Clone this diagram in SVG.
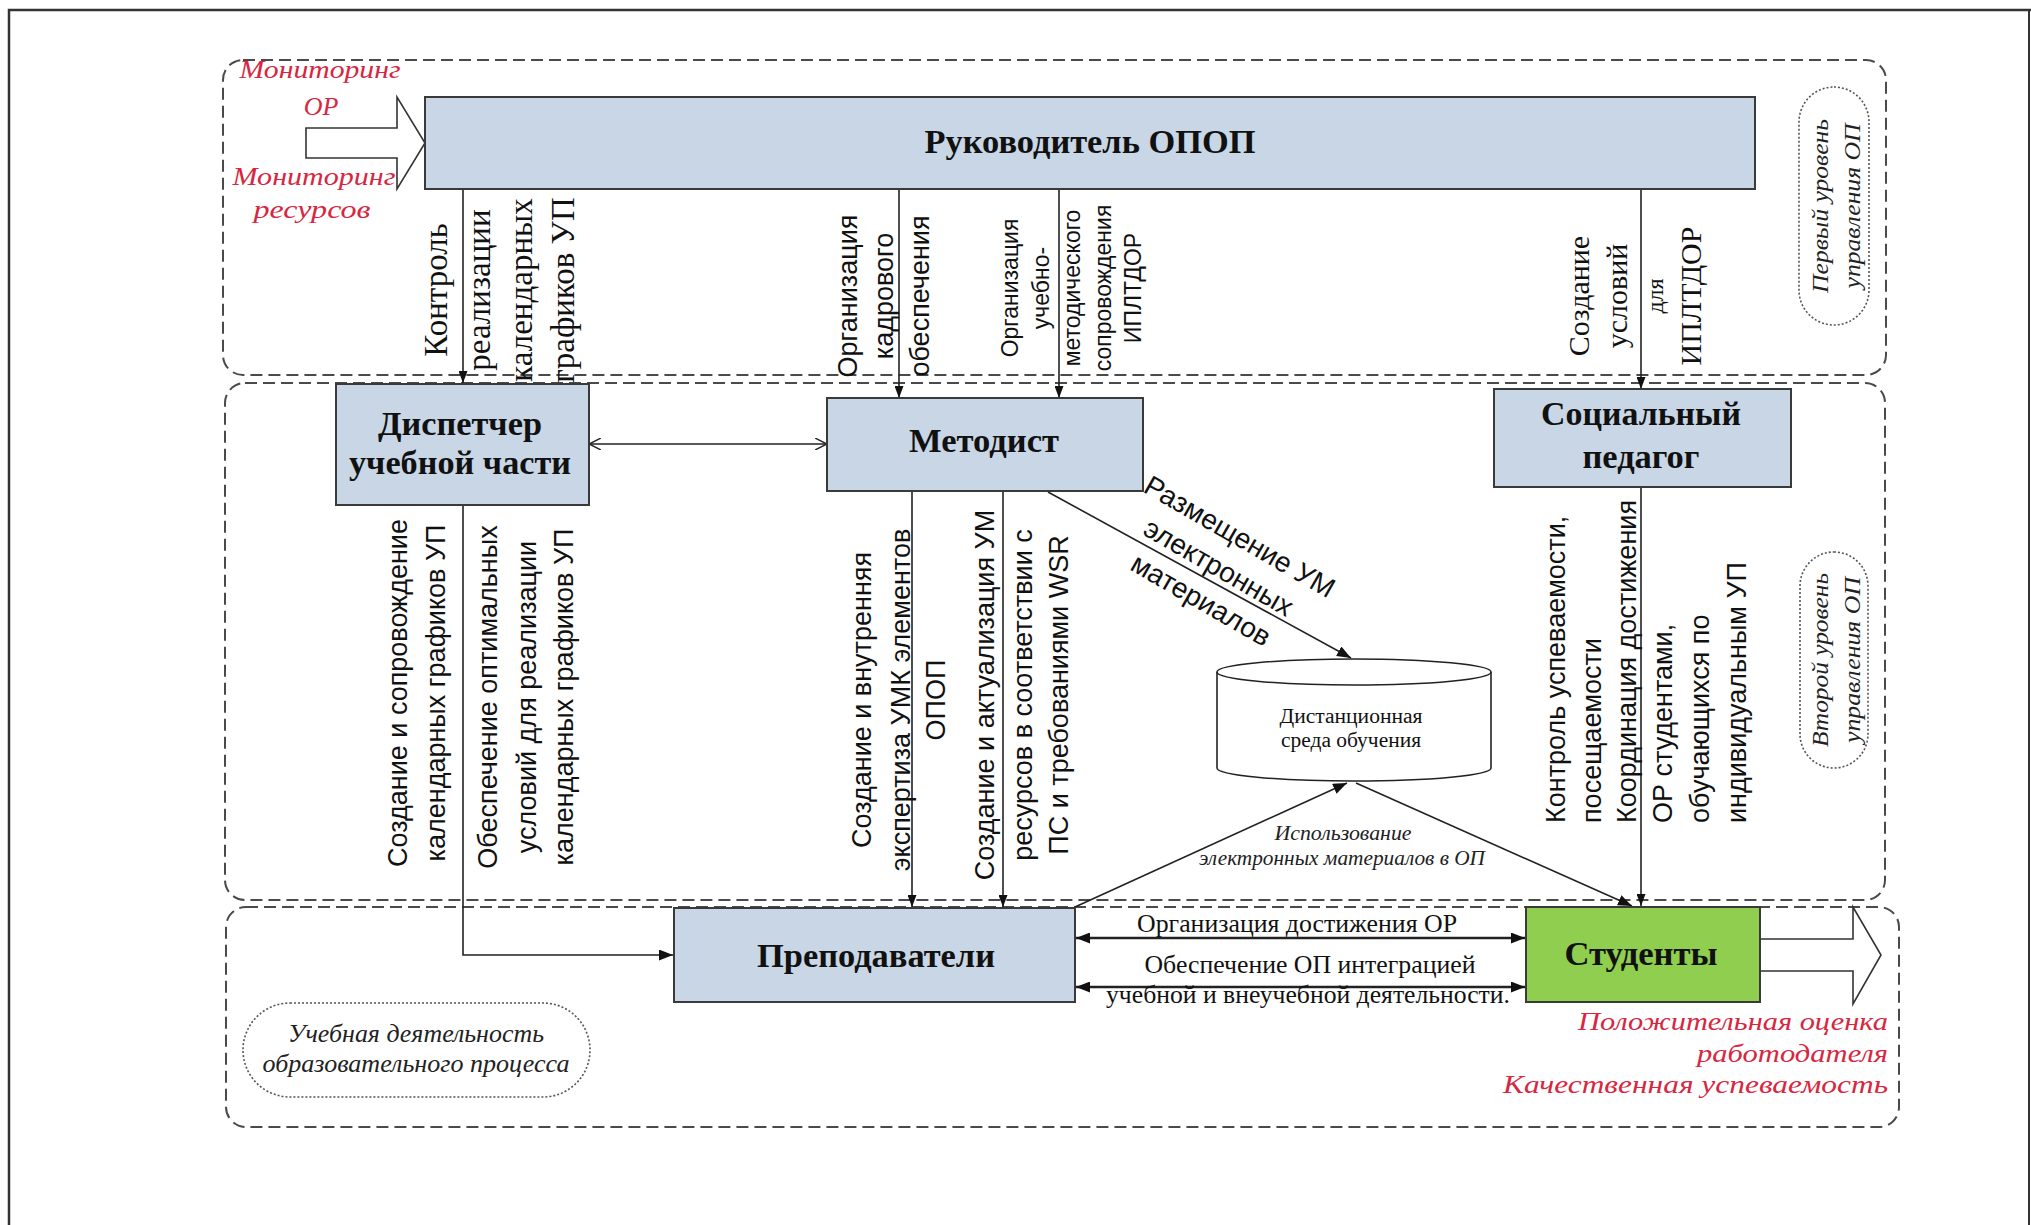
<svg xmlns="http://www.w3.org/2000/svg" width="2031" height="1225" viewBox="0 0 2031 1225">
<style>
.box{fill:#c8d6e5;stroke:#3a3a3a;stroke-width:2}
.green{fill:#8fce4e;stroke:#3a3a3a;stroke-width:2}
.region{fill:none;stroke:#4a4a4a;stroke-width:2;stroke-dasharray:12 6}
.stadium{fill:none;stroke:#555;stroke-width:1.6;stroke-dasharray:2 2}
.ln{fill:none;stroke:#222;stroke-width:1.6}
.ln2{fill:none;stroke:#222;stroke-width:2.4}
.hollow{fill:#fff;stroke:#333;stroke-width:1.6}
.title{font-family:"Liberation Serif","Times New Roman",serif;font-weight:bold;font-size:33px;fill:#111}
.serif{font-family:"Liberation Serif","Times New Roman",serif;fill:#111}
.sans{font-family:"Liberation Sans",Arial,sans-serif;fill:#111}
.ital{font-family:"Liberation Serif","Times New Roman",serif;font-style:italic;fill:#222}
.red{font-family:"Liberation Serif","Times New Roman",serif;font-style:italic;fill:#d8263f;font-size:26px}
</style>
<defs>
<marker id="ah" viewBox="0 0 10 10" refX="10" refY="5" markerWidth="14" markerHeight="11" markerUnits="userSpaceOnUse" orient="auto-start-reverse" preserveAspectRatio="none"><path d="M0,0 L10,5 L0,10 z" fill="#111"/></marker>
<marker id="ahs" viewBox="0 0 10 10" refX="10" refY="5" markerWidth="12" markerHeight="9" markerUnits="userSpaceOnUse" orient="auto-start-reverse" preserveAspectRatio="none"><path d="M0,0 L10,5 L0,10 z" fill="#111"/></marker>
<marker id="open" viewBox="0 0 10 10" refX="10" refY="5" markerWidth="12" markerHeight="12" markerUnits="userSpaceOnUse" orient="auto-start-reverse" preserveAspectRatio="none"><path d="M0,0 L10,5 L0,10" fill="none" stroke="#222" stroke-width="1.2"/></marker>
</defs>
<rect width="2031" height="1225" fill="#fff"/>
<path d="M9,1225 V10 H2031" fill="none" stroke="#333" stroke-width="2.5"/>
<line x1="2029" y1="10" x2="2029" y2="1225" stroke="#333" stroke-width="2"/>

<g id="regions">
<rect class="region" x="223" y="60" width="1663" height="315" rx="20"/>
<rect class="region" x="225" y="383" width="1660" height="517" rx="20"/>
<rect class="region" x="226" y="907" width="1673" height="220" rx="20"/>
</g>

<g id="connectors">
<line class="ln" x1="463" y1="189" x2="463" y2="383" marker-end="url(#ahs)"/>
<line class="ln" x1="899" y1="189" x2="899" y2="398" marker-end="url(#ahs)"/>
<line class="ln" x1="1059" y1="189" x2="1059" y2="398" marker-end="url(#ahs)"/>
<line class="ln" x1="1641" y1="189" x2="1641" y2="389" marker-end="url(#ahs)"/>
<line class="ln" x1="589" y1="444" x2="827" y2="444" marker-start="url(#open)" marker-end="url(#open)"/>
<polyline class="ln" points="463,505 463,955 673,955" marker-end="url(#ah)"/>
<line class="ln" x1="912" y1="491" x2="912" y2="907" marker-end="url(#ahs)"/>
<line class="ln" x1="1003" y1="491" x2="1003" y2="907" marker-end="url(#ahs)"/>
<line class="ln" x1="1048" y1="492" x2="1351" y2="658" marker-end="url(#ah)"/>
<line class="ln" x1="1075" y1="907" x2="1347" y2="783" marker-end="url(#ah)"/>
<line class="ln" x1="1356" y1="783" x2="1632" y2="906" marker-end="url(#ah)"/>
<line class="ln" x1="1641" y1="487" x2="1641" y2="906" marker-end="url(#ahs)"/>
<line class="ln2" x1="1076" y1="938" x2="1525" y2="938" marker-start="url(#ah)" marker-end="url(#ah)"/>
<line class="ln2" x1="1076" y1="987" x2="1525" y2="987" marker-start="url(#ah)" marker-end="url(#ah)"/>
<polygon class="hollow" points="306,128 397,128 397,97 425,143 397,189 397,158 306,158"/>
<polygon class="hollow" points="1760,939 1853,939 1853,907 1881,955 1853,1004 1853,971 1760,971"/>
</g>

<g id="node-rukovoditel">
<rect class="box" x="425" y="97" width="1330" height="92"/>
<text class="title" x="1090" y="153" text-anchor="middle" textLength="331" lengthAdjust="spacingAndGlyphs">Руководитель ОПОП</text>
</g>
<g id="node-dispetcher">
<rect class="box" x="336" y="384" width="253" height="121"/>
<text class="title" x="460" y="435" text-anchor="middle" textLength="164" lengthAdjust="spacingAndGlyphs">Диспетчер</text>
<text class="title" x="460" y="474" text-anchor="middle" textLength="222" lengthAdjust="spacingAndGlyphs">учебной части</text>
</g>
<g id="node-metodist">
<rect class="box" x="827" y="398" width="316" height="93"/>
<text class="title" x="984" y="452" text-anchor="middle" textLength="150" lengthAdjust="spacingAndGlyphs">Методист</text>
</g>
<g id="node-socped">
<rect class="box" x="1494" y="389" width="297" height="98"/>
<text class="title" x="1641" y="425" text-anchor="middle" textLength="200" lengthAdjust="spacingAndGlyphs">Социальный</text>
<text class="title" x="1641" y="468" text-anchor="middle" textLength="117" lengthAdjust="spacingAndGlyphs">педагог</text>
</g>
<g id="node-distant">
<path d="M1217,672 V768 A137,13 0 0 0 1491,768 V672" fill="#fff" stroke="#222" stroke-width="1.6"/>
<ellipse cx="1354" cy="672" rx="137" ry="13" fill="#fff" stroke="#222" stroke-width="1.6"/>
<text class="serif" x="1351" y="723" text-anchor="middle" font-size="20" fill="#333" textLength="143" lengthAdjust="spacingAndGlyphs">Дистанционная</text>
<text class="serif" x="1351" y="747" text-anchor="middle" font-size="20" fill="#333" textLength="140" lengthAdjust="spacingAndGlyphs">среда обучения</text>
</g>
<g id="node-prepod">
<rect class="box" x="674" y="908" width="401" height="94"/>
<text class="title" x="876" y="967" text-anchor="middle" textLength="238" lengthAdjust="spacingAndGlyphs">Преподаватели</text>
</g>
<g id="node-students">
<rect class="green" x="1526" y="907" width="234" height="95"/>
<text class="title" x="1641" y="965" text-anchor="middle" textLength="153" lengthAdjust="spacingAndGlyphs">Студенты</text>
</g>

<g id="stadiums">
<rect class="stadium" x="1799" y="87" width="70" height="238" rx="35"/>
<text class="ital" font-size="24" transform="translate(1828,206) rotate(-90)" text-anchor="middle"><tspan x="0" y="0" textLength="174" lengthAdjust="spacingAndGlyphs">Первый уровень</tspan><tspan x="0" y="32" textLength="165" lengthAdjust="spacingAndGlyphs">управления ОП</tspan></text>
<rect class="stadium" x="1800" y="552" width="68" height="216" rx="34"/>
<text class="ital" font-size="24" transform="translate(1828,660) rotate(-90)" text-anchor="middle"><tspan x="0" y="0" textLength="174" lengthAdjust="spacingAndGlyphs">Второй уровень</tspan><tspan x="0" y="32" textLength="166" lengthAdjust="spacingAndGlyphs">управления ОП</tspan></text>
<rect class="stadium" x="243" y="1003" width="347" height="94" rx="47"/>
<text class="ital" font-size="26" x="416" y="1042" text-anchor="middle" textLength="256" lengthAdjust="spacingAndGlyphs">Учебная деятельность</text>
<text class="ital" font-size="26" x="416" y="1072" text-anchor="middle" textLength="307" lengthAdjust="spacingAndGlyphs">образовательного процесса</text>
</g>

<g id="labels">
<text class="red" x="320" y="78" text-anchor="middle" textLength="161" lengthAdjust="spacingAndGlyphs">Мониторинг</text>
<text class="red" x="321" y="115" text-anchor="middle">ОР</text>
<text class="red" x="314" y="185" text-anchor="middle" textLength="163" lengthAdjust="spacingAndGlyphs">Мониторинг</text>
<text class="red" x="312" y="218" text-anchor="middle" textLength="117" lengthAdjust="spacingAndGlyphs">ресурсов</text>

<text class="serif" font-size="33" transform="translate(447,290) rotate(-90)" text-anchor="middle"><tspan x="0" y="0">Контроль</tspan><tspan x="0" y="43">реализации</tspan><tspan x="0" y="85">календарных</tspan><tspan x="0" y="127">графиков УП</tspan></text>

<text class="sans" font-size="27" transform="translate(857,296) rotate(-90)" text-anchor="middle"><tspan x="0" y="0">Организация</tspan><tspan x="0" y="36">кадрового</tspan><tspan x="0" y="72">обеспечения</tspan></text>

<text class="sans" font-size="23" transform="translate(1018,288) rotate(-90)" text-anchor="middle"><tspan x="0" y="0">Организация</tspan><tspan x="0" y="31">учебно-</tspan><tspan x="0" y="62">методического</tspan><tspan x="0" y="93">сопровождения</tspan><tspan x="0" y="123">ИПЛТДОР</tspan></text>

<text class="serif" font-size="30" transform="translate(1589,296) rotate(-90)" text-anchor="middle"><tspan x="0" y="0">Создание</tspan><tspan x="0" y="38">условий</tspan><tspan x="0" y="74" font-size="24">для</tspan><tspan x="0" y="112">ИПЛТДОР</tspan></text>

<text class="sans" font-size="27" transform="translate(407,693) rotate(-90)" text-anchor="middle"><tspan x="0" y="0">Создание и сопровождение</tspan><tspan x="0" y="38">календарных графиков УП</tspan></text>
<text class="sans" font-size="27" transform="translate(497,697) rotate(-90)" text-anchor="middle"><tspan x="0" y="0">Обеспечение оптимальных</tspan><tspan x="0" y="39">условий для реализации</tspan><tspan x="0" y="76">календарных графиков УП</tspan></text>

<text class="sans" font-size="27" transform="translate(871,700) rotate(-90)" text-anchor="middle"><tspan x="0" y="0">Создание и внутренняя</tspan><tspan x="0" y="39">экспертиза УМК элементов</tspan><tspan x="0" y="74">ОПОП</tspan></text>
<text class="sans" font-size="27" transform="translate(994,695) rotate(-90)" text-anchor="middle"><tspan x="0" y="0">Создание и актуализация УМ</tspan><tspan x="0" y="38">ресурсов в соответствии с</tspan><tspan x="0" y="74">ПС и требованиями WSR</tspan></text>

<text class="sans" font-size="28" transform="translate(1235,545) rotate(30)" text-anchor="middle"><tspan x="0" y="0">Размещение УМ</tspan><tspan x="-3" y="37">электронных</tspan><tspan x="-2" y="74">материалов</tspan></text>

<text class="sans" font-size="27" transform="translate(1565,823) rotate(-90)" text-anchor="start"><tspan x="0" y="0">Контроль успеваемости,</tspan><tspan x="0" y="36">посещаемости</tspan><tspan x="0" y="71">Координация достижения</tspan><tspan x="0" y="107">ОР студентами,</tspan><tspan x="0" y="144">обучающихся по</tspan><tspan x="0" y="181">индивидуальным УП</tspan></text>

<text class="ital" font-size="21" x="1343" y="840" text-anchor="middle" textLength="137" lengthAdjust="spacingAndGlyphs">Использование</text>
<text class="ital" font-size="21" x="1342" y="865" text-anchor="middle" textLength="286" lengthAdjust="spacingAndGlyphs">электронных материалов в ОП</text>

<text class="serif" font-size="26" x="1297" y="932" text-anchor="middle" textLength="320" lengthAdjust="spacingAndGlyphs">Организация достижения ОР</text>
<text class="serif" font-size="26" x="1310" y="973" text-anchor="middle" textLength="331" lengthAdjust="spacingAndGlyphs">Обеспечение ОП интеграцией</text>
<text class="serif" font-size="26" x="1308" y="1003" text-anchor="middle" textLength="404" lengthAdjust="spacingAndGlyphs">учебной и внеучебной деятельности.</text>

<text class="red" x="1888" y="1030" text-anchor="end" textLength="310" lengthAdjust="spacingAndGlyphs">Положительная оценка</text>
<text class="red" x="1888" y="1062" text-anchor="end" textLength="191" lengthAdjust="spacingAndGlyphs">работодателя</text>
<text class="red" x="1888" y="1093" text-anchor="end" textLength="385" lengthAdjust="spacingAndGlyphs">Качественная успеваемость</text>
</g>
</svg>
